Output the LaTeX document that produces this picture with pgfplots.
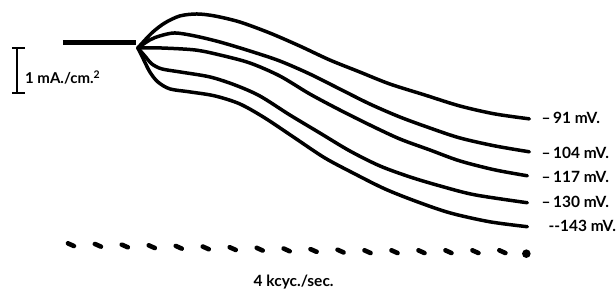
\documentclass[border=0pt]{standalone}
\usepackage{fontspec}
\setmainfont{Lato}
\usepackage{pgfplots}
\pgfplotsset{compat=1.18}
\begin{document}
\begin{tikzpicture}[x=1pt,y=1pt]
\begin{axis}[
  scale only axis, width=616pt, height=291pt,
  xmin=0, xmax=616, ymin=-291, ymax=0,
  axis lines=none, clip=false,
  every axis plot/.append style={black, line width=3.5pt, line cap=round},
]
\path (axis cs:0,0) rectangle (axis cs:616,-291);
% heavy baseline
\addplot[line width=5pt, line cap=butt] coordinates {(63,-43) (136,-43)};
% scale bar
\addplot[line width=2pt, line cap=butt] coordinates {(17,-48) (17,-93)};
\addplot[line width=2pt, line cap=butt] coordinates {(12,-48) (25,-48)};
\addplot[line width=2pt, line cap=butt] coordinates {(12,-93) (25,-93)};
% -91 mV
\addplot[smooth] coordinates {(138,-48) (152,-33) (165,-23) (180,-16) (197,-14) (215,-16) (240,-22) (270,-33) (300,-46) (330,-60) (360,-72) (390,-84) (425,-95) (460,-106) (495,-114) (530,-119)};
% -104 mV
\addplot[smooth] coordinates {(138,-48) (150,-40) (160,-36) (175,-33) (195,-36) (220,-42) (250,-51) (280,-61) (310,-74) (340,-89) (370,-104) (400,-117) (430,-128) (460,-138) (495,-146) (530,-152)};
% -117 mV
\addplot[smooth] coordinates {(138,-48) (160,-48) (195,-50) (220,-55) (250,-63) (280,-76) (310,-94) (340,-110) (370,-125) (400,-139) (430,-150) (460,-161) (495,-170) (528,-176)};
% -130 mV
\addplot[smooth] coordinates {(138,-48) (145,-56) (152,-64) (162,-69) (180,-72) (210,-77) (235,-85) (260,-96) (290,-115) (320,-133) (350,-151) (380,-166) (410,-177) (440,-186) (475,-195) (528,-203)};
% -143 mV
\addplot[smooth] coordinates {(138,-48) (143,-58) (150,-72) (158,-82) (170,-89) (190,-92) (215,-96) (240,-104) (265,-118) (295,-138) (325,-158) (355,-174) (385,-189) (415,-201) (450,-213) (490,-222) (528,-227)};
% time marks
\addplot[only marks, mark=-, mark size=3.3pt, mark options={line width=4.6pt, rotate=-24, line cap=round}]
 coordinates {(71,-245) (98,-245.6) (125,-246.3) (152,-247) (179,-247.6) (206,-248.2) (233,-248.9) (260,-249.5) (287,-250.2) (314,-250.8) (341,-251.4) (368,-252) (395,-252) (422,-252) (449,-252) (476,-252) (503,-252)};
\addplot[only marks, mark=*, mark size=2.4pt, mark options={draw=none, fill=black}] coordinates {(527,-254)};
% labels
\tikzset{lab/.style={anchor=west, inner sep=0pt, font=\fontsize{15.5}{17}\selectfont\bfseries}}
\node[lab] at (axis cs:542,-118) {–\,91 mV.};
\node[lab] at (axis cs:542,-153) {–\,104 mV.};
\node[lab] at (axis cs:542,-177) {–\,117 mV.};
\node[lab] at (axis cs:542,-202) {–\,130 mV.};
\node[lab] at (axis cs:549,-226) {-{}-143 mV.};
\node[anchor=west, inner sep=0pt, font=\fontsize{15}{17}\selectfont\bfseries] at (axis cs:25,-78) {1 mA./cm.\textsuperscript{2}};
\node[anchor=center, inner sep=0pt, font=\fontsize{15.5}{17}\selectfont\bfseries] at (axis cs:294,-282) {4 kcyc./sec.};
\end{axis}
\end{tikzpicture}
\end{document}
